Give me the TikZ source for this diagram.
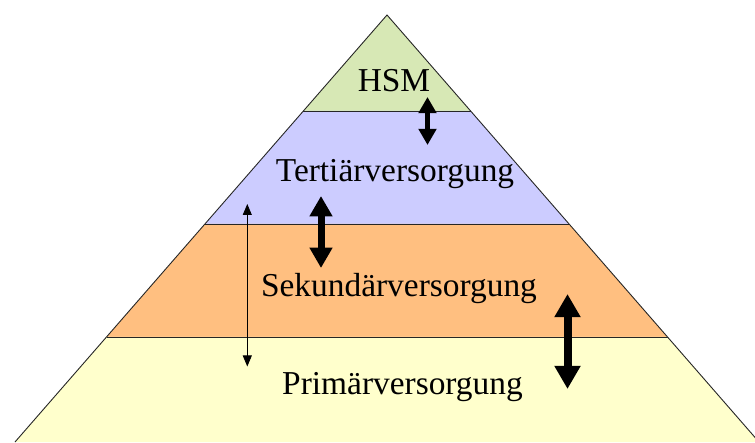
\documentclass[tikz,border=0pt]{standalone}
\usepackage{fontspec}
\setmainfont{Liberation Serif}
\usetikzlibrary{arrows.meta}
\definecolor{hsmgreen}{RGB}{215,232,181}
\definecolor{tertblue}{RGB}{204,204,255}
\definecolor{sekorange}{RGB}{255,191,128}
\definecolor{primyellow}{RGB}{255,255,204}
\tikzset{
  layerline/.style={draw=black!85, line width=0.9pt},
  label/.style={anchor=base, inner sep=0pt, font=\fontsize{33.4}{38}\selectfont},
  bigarrow/.style={line width=#1, {Triangle[width=3.1*#1,length=2.9*#1]}-{Triangle[width=3.1*#1,length=2.9*#1]}},
  thinarrow/.style={line width=0.8pt, {Triangle[width=9pt,length=11pt]}-{Triangle[width=9pt,length=11pt]}}
}
\begin{document}
\begin{tikzpicture}[x=1pt,y=-1pt]
\useasboundingbox (0,0) rectangle (755,443);
\clip (0,0) rectangle (755,443);
% pyramid corners
\coordinate (apex) at (387,15);
\coordinate (l1) at (303.4,111); \coordinate (r1) at (470.6,111);
\coordinate (l2) at (205,224);   \coordinate (r2) at (569,224);
\coordinate (l3) at (106.5,337); \coordinate (r3) at (667.5,337);
\coordinate (l4) at (15,442);    \coordinate (r4) at (759,442);
% bands
\fill[hsmgreen] (apex) -- (r1) -- (l1) -- cycle;
\fill[tertblue] (l1) -- (r1) -- (r2) -- (l2) -- cycle;
\fill[sekorange] (l2) -- (r2) -- (r3) -- (l3) -- cycle;
\fill[primyellow] (l3) -- (r3) -- (r4) -- (l4) -- cycle;
% outlines
\draw[layerline] (l1) -- (r1);
\draw[layerline] (l2) -- (r2);
\draw[layerline] (l3) -- (r3);
\draw[layerline, line join=miter] (l4) -- (apex) -- (r4);
% labels
\node[label] (hsm) at (394,92) {HSM};
\node[label] (tert) at (395,182) {Tertiärversorgung};
\node[label] (sek) at (399,297) {Sekundärversorgung};
\node[label] (prim) at (402.5,395) {Primärversorgung};
% arrows
\coordinate (a1t) at (427.5,97);  \coordinate (a1b) at (427.5,145);
\coordinate (a2t) at (321,196);   \coordinate (a2b) at (321,268);
\coordinate (a3t) at (567.5,294); \coordinate (a3b) at (567.5,389);
\coordinate (a4t) at (247.3,204); \coordinate (a4b) at (247.3,366.5);
\draw[bigarrow=5.6pt] (a1t) -- (a1b);
\draw[bigarrow=7pt] (a2t) -- (a2b);
\draw[bigarrow=8pt] (a3t) -- (a3b);
\draw[thinarrow] (a4t) -- (a4b);
\end{tikzpicture}
\end{document}
